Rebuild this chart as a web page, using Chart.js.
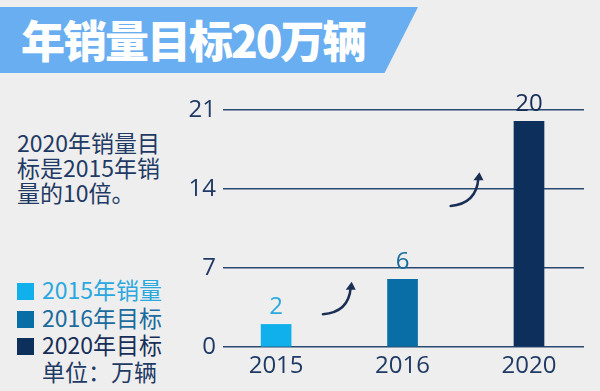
<!DOCTYPE html>
<html>
<head>
<meta charset="utf-8">
<script src="https://cdn.jsdelivr.net/npm/chart.js@4.4.0/dist/chart.umd.min.js"></script>
<style>
  html, body { margin: 0; padding: 0; background: #eeeeee; }
  #wrap { position: relative; width: 600px; height: 391px; overflow: hidden; font-family: "Noto Sans CJK SC", "Noto Sans", sans-serif; }
  #banner { position: absolute; left: 0; top: 7px; width: 418px; height: 66px; background: #68aef0;
    clip-path: polygon(0 0, 100% 0, 92% 100%, 0 100%); }
  #title { position: absolute; left: 21px; top: 6px; height: 66px; line-height: 66px; color: #fff;
    font-size: 44px; font-weight: 900; letter-spacing: -2px; }
  #note { position: absolute; left: 17px; top: 130px; color: #1f3a64; font-size: 23px; line-height: 25px; }
  #legend { position: absolute; left: 17px; top: 276px; font-size: 23px; line-height: 27.5px; }
  #legend .sw { display: inline-block; width: 17px; height: 17px; margin-right: 8px; vertical-align: -1px; }
  #legend .unit { color: #1f3a64; padding-left: 25px; line-height: 24px; }
  canvas { position: absolute; left: 0; top: 0; }
</style>
</head>
<body>
<div id="wrap">
  <div id="banner"></div>
  <div id="title">年销量目标20万辆</div>
  <div id="note">2020年销量目<br>标是2015年销<br>量的10倍。</div>
  <div id="legend"></div>
  <canvas id="chart" width="600" height="391"></canvas>
</div>
<script>
// categories and values
const categories = ['2015', '2016', '2020'];
const values = [2, 6, 20];
const legendNames = ['2015年销量', '2016年目标', '2020年目标'];
const yTicks = [0, 7, 14, 21];
const unitText = '单位：万辆';

// colours
const barColors = ['#0fb0ec', '#0a6ea6', '#0c2f5c'];
const labelColors = ['#2aa8df', '#1b6b9e', '#172f58'];
const textColor = '#1f3a64';
const gridColor = '#2a4a72';

// legend (html)
const legendEl = document.getElementById('legend');
legendNames.forEach((name, i) => {
  const row = document.createElement('div');
  row.style.color = labelColors[i];
  row.innerHTML = '<span class="sw" style="background:' + barColors[i] + '"></span>' + name;
  legendEl.appendChild(row);
});
const unitRow = document.createElement('div');
unitRow.className = 'unit';
unitRow.textContent = unitText;
legendEl.appendChild(unitRow);

// value labels above bars
const valueLabels = {
  id: 'valueLabels',
  afterDatasetsDraw(chart) {
    const ctx = chart.ctx;
    const meta = chart.getDatasetMeta(0);
    ctx.save();
    ctx.font = '24px "Open Sans", "Noto Sans", sans-serif';
    ctx.textAlign = 'center';
    ctx.textBaseline = 'alphabetic';
    meta.data.forEach((bar, i) => {
      ctx.fillStyle = labelColors[i];
      ctx.fillText(String(values[i]), bar.x, bar.y - 10);
    });
    ctx.restore();
  }
};

// curved growth arrows between bars
const arrows = {
  id: 'arrows',
  afterDatasetsDraw(chart) {
    const xs = chart.scales.x, ys = chart.scales.y;
    const ctx = chart.ctx;
    const list = [[0.37, 2.9, 0.59, 5.7], [1.38, 12.5, 1.6, 15.4]];
    ctx.save();
    ctx.strokeStyle = '#1b2f55';
    ctx.fillStyle = '#1b2f55';
    ctx.lineWidth = 2.5;
    ctx.lineCap = 'round';
    list.forEach(a => {
      const x0 = xs.getPixelForValue(a[0]), y0 = ys.getPixelForValue(a[1]);
      const x1 = xs.getPixelForValue(a[2]), y1 = ys.getPixelForValue(a[3]);
      ctx.beginPath();
      ctx.moveTo(x0, y0);
      ctx.quadraticCurveTo(x1 - 2, y0 - 2, x1, y1 + 5);
      ctx.stroke();
      ctx.beginPath();
      ctx.moveTo(x1 + 1, y1 - 1);
      ctx.lineTo(x1 - 5, y1 + 7);
      ctx.lineTo(x1 + 5, y1 + 7);
      ctx.closePath();
      ctx.fill();
    });
    ctx.restore();
  }
};

new Chart(document.getElementById('chart').getContext('2d'), {
  type: 'bar',
  data: {
    datasets: [{
      data: values.map((v, i) => ({ x: i, y: v })),
      backgroundColor: barColors,
      barThickness: 30
    }]
  },
  options: {
    responsive: false,
    animation: false,
    layout: { padding: { left: 183, top: 110, right: 16, bottom: 0 } },
    plugins: { legend: { display: false }, tooltip: { enabled: false } },
    scales: {
      x: {
        type: 'linear',
        offset: false,
        min: -0.42,
        max: 2.435,
        grid: { display: false },
        border: { display: false },
        afterBuildTicks: axis => { axis.ticks = categories.map((c, i) => ({ value: i })); },
        afterFit: axis => { axis.height = 44; },
        ticks: {
          color: textColor,
          font: { size: 24, family: '"Open Sans", "Noto Sans", sans-serif' },
          padding: -3,
          maxRotation: 0,
          autoSkip: false,
          callback: v => categories[v]
        }
      },
      y: {
        min: 0,
        max: 21,
        afterBuildTicks: axis => { axis.ticks = yTicks.map(v => ({ value: v })); },
        afterFit: axis => { axis.width = 40; },
        grid: { color: gridColor, lineWidth: 1.5, drawTicks: false },
        border: { display: false },
        ticks: {
          color: textColor,
          font: { size: 24, family: '"Open Sans", "Noto Sans", sans-serif' },
          padding: 7
        }
      }
    }
  },
  plugins: [valueLabels, arrows]
});
</script>
</body>
</html>
